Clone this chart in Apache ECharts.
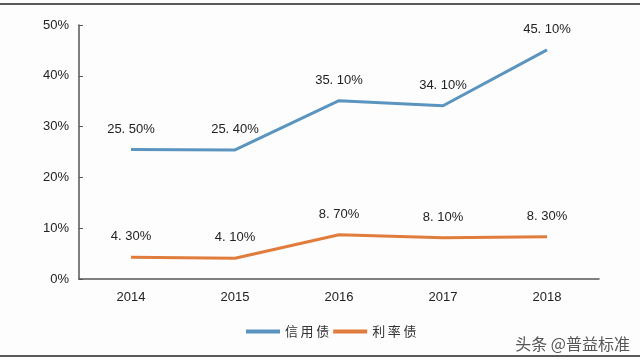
<!DOCTYPE html>
<html><head><meta charset="utf-8">
<script src="https://cdn.jsdelivr.net/npm/echarts@6/dist/echarts.min.js"></script>
<style>html,body{margin:0;padding:0;background:#fdfdfd;}#c{width:640px;height:360px;}</style>
</head><body><div id="c"></div>
<script>
const categories = ['2014','2015','2016','2017','2018'];
const creditBond = [25.5, 25.4, 35.1, 34.1, 45.1];
const rateBond = [4.3, 4.1, 8.7, 8.1, 8.3];
const yTicks = [0, 10, 20, 30, 40, 50];

const chart = echarts.init(document.getElementById('c'));
const font = '"Liberation Sans", Arial, sans-serif';
const lbl = {
  show: true, position: 'top', distance: 14, color: '#222', fontSize: 13, fontFamily: font,
  formatter: p => p.value.toFixed(2).replace('.', '. ') + '%'
};
chart.setOption({
  backgroundColor: '#fdfdfd',
  animation: false,
  grid: { left: 79, right: 41, top: 25, bottom: 81 },
  xAxis: {
    type: 'category', data: categories, boundaryGap: true,
    axisLine: { lineStyle: { color: '#555', width: 1.5 } },
    axisTick: { show: false },
    axisLabel: { color: '#222', fontSize: 13, fontFamily: font, margin: 12 }
  },
  yAxis: {
    type: 'value', min: 0, max: 50, interval: 10,
    axisLine: { show: true, lineStyle: { color: '#555', width: 1.5 } },
    axisTick: { show: true, inside: true, length: 4, lineStyle: { color: '#555' } },
    splitLine: { show: false },
    axisLabel: { color: '#222', fontSize: 13, fontFamily: font, margin: 10,
      formatter: v => yTicks.includes(v) ? v + '%' : '' }
  },
  legend: {
    bottom: 17, left: 241, itemWidth: 34, itemHeight: 4, itemGap: 4,
    icon: 'rect',
    textStyle: { color: '#333', fontSize: 13, fontFamily: '"Noto Sans CJK SC"', padding: [0, 0, 0, 0] },
    formatter: n => n.split('').join('\u2009'),
    data: ['信用债', '利率债']
  },
  series: [
    { name: '信用债', type: 'line', data: creditBond, symbol: 'circle', symbolSize: 0, showSymbol: true,
      lineStyle: { color: '#5b95bf', width: 3 }, itemStyle: { color: '#5b95bf' }, label: lbl },
    { name: '利率债', type: 'line', data: rateBond, symbol: 'circle', symbolSize: 0, showSymbol: true,
      lineStyle: { color: '#e07d3c', width: 3 }, itemStyle: { color: '#e07d3c' }, label: lbl }
  ],
  graphic: [
    { type: 'line', shape: { x1: 0, y1: 4, x2: 640, y2: 4 }, style: { stroke: '#222', lineWidth: 1.5 } },
    { type: 'line', shape: { x1: 0, y1: 356, x2: 640, y2: 356 }, style: { stroke: '#222', lineWidth: 1.5 } },
    { type: 'text', right: 10, bottom: 8, style: { text: '头条 @普益标准', fill: '#555', font: '16px "Noto Sans CJK SC"' } }
  ]
});
</script></body></html>
